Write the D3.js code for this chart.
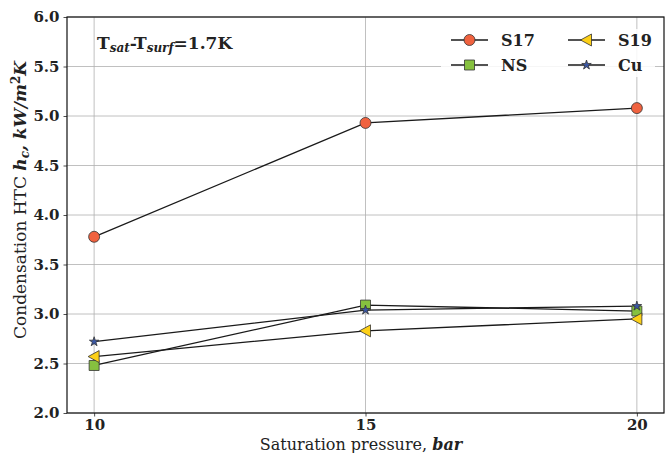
<!DOCTYPE html>
<html>
<head>
<meta charset="utf-8">
<script src="https://cdn.jsdelivr.net/npm/d3@7"></script>
<style>
  body { margin: 0; background: #fff; }
  text { font-family: "DejaVu Serif", serif; font-weight: bold; fill: #222; }
</style>
</head>
<body>
<div id="chart"></div>
<script>
// data
const pressures = [10, 15, 20];
const s17 = [3.78, 4.93, 5.08];
const ns  = [2.48, 3.09, 3.03];
const s19 = [2.57, 2.83, 2.95];
const cu  = [2.72, 3.04, 3.08];
const xTicks = [10, 15, 20];
const yTicks = [2.0, 2.5, 3.0, 3.5, 4.0, 4.5, 5.0, 5.5, 6.0];

const series = [
  { name: "S17", values: s17, color: "#f0623f", marker: "circle" },
  { name: "NS",  values: ns,  color: "#86c13f", marker: "square" },
  { name: "S19", values: s19, color: "#fdd017", marker: "triangle" },
  { name: "Cu",  values: cu,  color: "#3a57a4", marker: "star" }
];

const W = 666, H = 453;
const margin = { top: 17, right: 2, bottom: 40, left: 67 };
const width = W - margin.left - margin.right;
const height = H - margin.top - margin.bottom;

const svg = d3.select("#chart").append("svg")
  .attr("width", W).attr("height", H);

const g = svg.append("g")
  .attr("transform", "translate(" + margin.left + "," + margin.top + ")");

const x = d3.scaleLinear().domain([9.5, 20.5]).range([0, width]);
const y = d3.scaleLinear().domain([2, 6]).range([height, 0]);

// grid
g.append("g").selectAll("line").data(yTicks).enter().append("line")
  .attr("x1", 0).attr("x2", width)
  .attr("y1", d => y(d)).attr("y2", d => y(d))
  .attr("stroke", "#b0b0b0").attr("stroke-width", 0.8);
g.append("g").selectAll("line").data(xTicks).enter().append("line")
  .attr("y1", 0).attr("y2", height)
  .attr("x1", d => x(d)).attr("x2", d => x(d))
  .attr("stroke", "#b0b0b0").attr("stroke-width", 0.8);

// axes
const xAxis = g.append("g").attr("transform", "translate(0," + height + ")")
  .call(d3.axisBottom(x).tickValues(xTicks).tickFormat(d3.format("d")).tickSize(3.5).tickPadding(3));
const yAxis = g.append("g")
  .call(d3.axisLeft(y).tickValues(yTicks).tickFormat(d3.format(".1f")).tickSize(3.5).tickPadding(4));
[xAxis, yAxis].forEach(a => {
  a.select(".domain").remove();
  a.selectAll("line").attr("stroke", "#222").attr("stroke-width", 0.8);
  a.selectAll("text").style("font-size", "15px").style("font-family", "DejaVu Serif, serif")
    .style("font-weight", "bold").attr("fill", "#222");
});

function markerPath(type) {
  if (type === "circle") return d3.symbol(d3.symbolCircle, 95)();
  if (type === "square") return d3.symbol(d3.symbolSquare, 100)();
  if (type === "star") return d3.symbol(d3.symbolStar, 28)();
  // left pointing triangle
  return "M-6,0L5,-6L5,6Z";
}

const line = d3.line().x((d, i) => x(pressures[i])).y(d => y(d));

series.forEach(s => {
  g.append("path").datum(s.values)
    .attr("d", line).attr("fill", "none")
    .attr("stroke", "#1a1a1a").attr("stroke-width", 1.3);
});
series.forEach(s => {
  g.append("g").selectAll("path").data(s.values).enter().append("path")
    .attr("d", markerPath(s.marker))
    .attr("transform", (d, i) => "translate(" + x(pressures[i]) + "," + y(d) + ")")
    .attr("fill", s.color).attr("stroke", "#333").attr("stroke-width", 0.8);
});

// frame
g.append("rect").attr("width", width).attr("height", height)
  .attr("fill", "none").attr("stroke", "#111").attr("stroke-width", 1.2);

// legend
const leg = g.append("g").attr("transform", "translate(374,12)");
leg.append("rect").attr("x", 0).attr("y", 0).attr("width", 214).attr("height", 48)
  .attr("fill", "#fff").attr("opacity", 0.85);
series.forEach((s, i) => {
  const col = Math.floor(i / 2), row = i % 2;
  const lx = 10 + col * 117, ly = 11 + row * 25;
  leg.append("line").attr("x1", lx).attr("x2", lx + 37).attr("y1", ly).attr("y2", ly)
    .attr("stroke", "#1a1a1a").attr("stroke-width", 1.3);
  leg.append("path").attr("d", markerPath(s.marker))
    .attr("transform", "translate(" + (lx + 18.5) + "," + ly + ")")
    .attr("fill", s.color).attr("stroke", "#333").attr("stroke-width", 0.8);
  leg.append("text").attr("x", lx + 50).attr("y", ly + 5.5)
    .style("font-size", "16px").text(s.name);
});

// annotation
const ann = g.append("text").attr("x", 30).attr("y", 32).style("font-size", "17px");
ann.append("tspan").text("T");
ann.append("tspan").attr("dy", 3).style("font-size", "12px").style("font-style", "italic").text("sat");
ann.append("tspan").attr("dy", -3).text("-T");
ann.append("tspan").attr("dy", 3).style("font-size", "12px").style("font-style", "italic").text("surf");
ann.append("tspan").attr("dy", -3).text("=1.7K");

// axis titles
const xt = svg.append("text").attr("x", 361).attr("y", 450)
  .attr("text-anchor", "middle").style("font-size", "16px").style("font-weight", "normal");
xt.append("tspan").text("Saturation pressure, ");
xt.append("tspan").style("font-style", "italic").style("font-weight", "bold").text("bar");

const yt = svg.append("text")
  .attr("transform", "translate(26,200) rotate(-90)")
  .attr("text-anchor", "middle").style("font-size", "17px").style("font-weight", "normal");
yt.append("tspan").text("Condensation HTC ");
yt.append("tspan").style("font-style", "italic").style("font-weight", "bold").text("h");
yt.append("tspan").attr("dy", 3).style("font-size", "12px").style("font-style", "italic").style("font-weight", "bold").text("c");
yt.append("tspan").attr("dy", -3).style("font-style", "italic").style("font-weight", "bold").text(", kW/m");
yt.append("tspan").attr("dy", -6).style("font-size", "12px").style("font-weight", "bold").text("2");
yt.append("tspan").attr("dy", 6).style("font-style", "italic").style("font-weight", "bold").text("K");
</script>
</body>
</html>
